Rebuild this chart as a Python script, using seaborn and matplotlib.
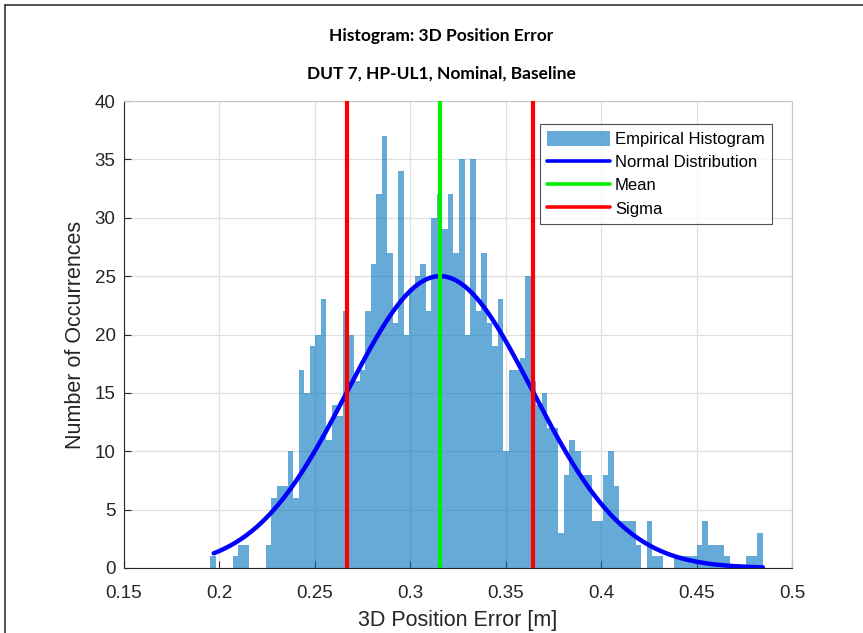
import numpy as np
import pandas as pd
import matplotlib
matplotlib.use("Agg")
import matplotlib.pyplot as plt
from matplotlib.lines import Line2D
import seaborn as sns

# ---- data ----
BIN_START = 0.1953
BIN_WIDTH = 0.002894
counts = [
    1, 0, 0, 0, 1, 2, 2, 0, 0, 0,
    2, 6, 7, 7, 10, 6, 17, 15, 19, 20,
    23, 11, 14, 13, 22, 20, 16, 17, 22, 26,
    32, 37, 27, 21, 34, 20, 24, 25, 26, 22,
    30, 32, 29, 32, 27, 35, 20, 35, 22, 27,
    21, 19, 23, 10, 17, 17, 18, 25, 16, 14,
    15, 12, 12, 3, 8, 11, 10, 8, 8, 4,
    4, 8, 10, 7, 4, 4, 4, 2, 0, 4,
    1, 1, 0, 0, 1, 1, 1, 1, 2, 4,
    2, 2, 2, 1, 0, 0, 0, 1, 1, 3,
]
mean_val = 0.3156
sigma_val = 0.0485
normal_peak = 25.0
curve_range = [0.197, 0.4847]

title_lines = ["Histogram: 3D Position Error", "DUT 7, HP-UL1, Nominal, Baseline"]
x_label = "3D Position Error [m]"
y_label = "Number of Occurrences"
x_ticks = [0.15, 0.2, 0.25, 0.3, 0.35, 0.4, 0.45, 0.5]
x_tick_labels = ["0.15", "0.2", "0.25", "0.3", "0.35", "0.4", "0.45", "0.5"]
y_ticks = [0, 5, 10, 15, 20, 25, 30, 35, 40]
legend_labels = ["Empirical Histogram", "Normal Distribution", "Mean", "Sigma"]

# ---- derived ----
n_bins = len(counts)
edges = [BIN_START + BIN_WIDTH * i for i in range(n_bins + 1)]
centers = [e + BIN_WIDTH / 2 for e in edges[:-1]]
df = pd.DataFrame({"err": centers, "n": counts})
xc = np.linspace(curve_range[0], curve_range[1], 300)
yc = normal_peak * np.exp(-0.5 * ((xc - mean_val) / sigma_val) ** 2)

sns.set_theme(style="white")
plt.rcParams["font.family"] = ["Liberation Sans", "DejaVu Sans"]

W, H = 863, 633
fig = plt.figure(figsize=(W / 100, H / 100), dpi=100)
ax = fig.add_axes([124 / W, 1 - 568 / H, (792 - 124) / W, (568 - 101) / H])

axis_col = (0.15, 0.15, 0.15)
grid_col = "#dfdfdf"

sns.histplot(data=df, x="err", weights="n", bins=edges, ax=ax,
             color="#0072BD", alpha=0.6, edgecolor="none", linewidth=0,
             label=legend_labels[0], zorder=2)
sns.lineplot(x=xc, y=yc, ax=ax, color="#0000FF", linewidth=3.2,
             label=legend_labels[1], zorder=3, sort=False)
ax.axvline(mean_val, color="#00EE00", linewidth=3, label=legend_labels[2], zorder=4)
ax.axvline(mean_val - sigma_val, color="#FF0000", linewidth=3, label=legend_labels[3], zorder=4)
ax.axvline(mean_val + sigma_val, color="#FF0000", linewidth=3, zorder=4)

ax.set_xlim(0.15, 0.5)
ax.set_ylim(0, 40)
ax.set_xticks(x_ticks)
ax.set_xticklabels(x_tick_labels)
ax.set_yticks(y_ticks)
ax.grid(True, color=grid_col, linewidth=0.9, zorder=0)
ax.set_axisbelow(True)

for s in ["left", "bottom"]:
    ax.spines[s].set_color(axis_col)
    ax.spines[s].set_linewidth(0.8)
for s in ["top", "right"]:
    ax.spines[s].set_color("#c8c8c8")
    ax.spines[s].set_linewidth(0.8)

ax.tick_params(axis="both", direction="in", length=5, width=0.8,
               colors=axis_col, labelsize=13.5,
               bottom=True, left=True, top=False, right=False)
ax.tick_params(axis="x", pad=12)
ax.tick_params(axis="y", pad=6)
ax.set_xlabel(x_label, fontsize=15.5, color=axis_col, labelpad=6)
ax.set_ylabel(y_label, fontsize=15.5, color=axis_col, labelpad=6)

# legend in reference order
h, l = ax.get_legend_handles_labels()
hmap = dict(zip(l, h))
handles = [hmap[k] for k in legend_labels]
leg = ax.legend(handles, legend_labels, loc="upper right",
                bbox_to_anchor=((771.7 - 124) / 668, (568 - 124) / 467),
                fontsize=12, frameon=True, fancybox=False,
                handlelength=3.8, handleheight=1.0, handletextpad=0.3,
                labelspacing=0.42, borderpad=0.42, borderaxespad=0)
leg.get_frame().set_edgecolor(axis_col)
leg.get_frame().set_linewidth(0.8)
for ln in leg.get_lines():
    ln.set_linewidth(2.6)
for t in leg.get_texts():
    t.set_color("black")

fig.text(441 / W, 1 - 36 / H, title_lines[0], ha="center", va="center",
         fontsize=12.5, fontweight="bold", family=["Lato", "DejaVu Sans"], color="black")
fig.text(441 / W, 1 - 74 / H, title_lines[1], ha="center", va="center",
         fontsize=12.5, fontweight="bold", family=["Lato", "DejaVu Sans"], color="black")

# screenshot frame (left and top edges)
fig.add_artist(Line2D([5 / W, 5 / W], [0, 1 - 5 / H], color="#333333", linewidth=1.2,
                      transform=fig.transFigure))
fig.add_artist(Line2D([5 / W, 1], [1 - 5 / H, 1 - 5 / H], color="#333333", linewidth=1.2,
                      transform=fig.transFigure))

fig.savefig("out.png", dpi=100, facecolor="white")
